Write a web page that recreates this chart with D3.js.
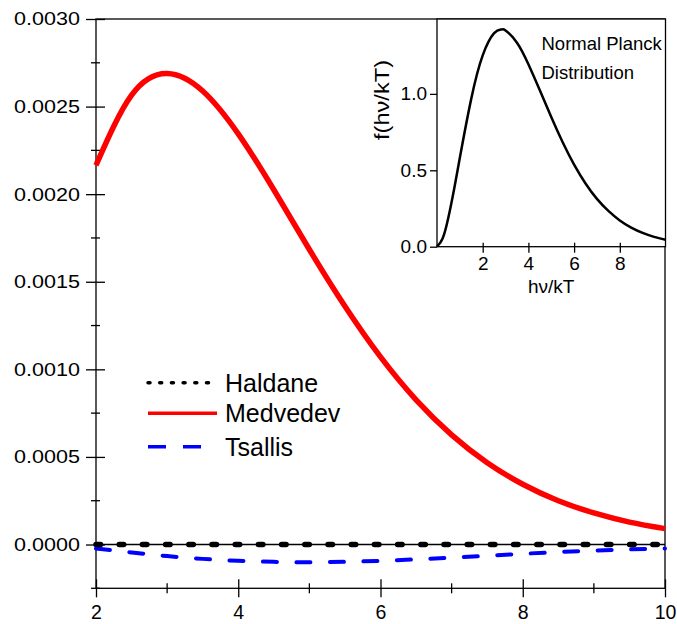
<!DOCTYPE html>
<html>
<head>
<meta charset="utf-8">
<script src="https://cdn.jsdelivr.net/npm/d3@7"></script>
<style>
    body { margin: 0; background: #fff; }
    text { font-family: "Liberation Sans", Arial, sans-serif; fill: #000; }
</style>
</head>
<body>
<div id="chart"></div>
<script>

// Main chart data
var xValues = [2, 2.5, 3, 3.5, 4, 4.5, 5, 5.5, 6, 6.5, 7, 7.5, 8, 8.5, 9, 9.5, 10];
var haldane = [0, 0, 0, 0, 0, 0, 0, 0, 0, 0, 0, 0, 0, 0, 0, 0, 0];
var medvedev = [0.002165, 0.002565, 0.002689, 0.002589, 0.002344, 0.002025, 0.001684, 0.001360,
    0.001071, 0.000826, 0.000626, 0.000467, 0.000344, 0.000250, 0.000180, 0.000128, 0.0000908];
var tsallis = [-0.000023, -0.000045, -0.000066, -0.000082, -0.000093, -0.000099, -0.000101, -0.000099,
    -0.000093, -0.000085, -0.000075, -0.000064, -0.000053, -0.000043, -0.000035, -0.000028, -0.000023];

var seriesNames = ["Haldane", "Medvedev", "Tsallis"];

var xMajorTicks = [2, 4, 6, 8, 10];
var xMinorTicks = [3, 5, 7, 9];
var yMajorTicks = [0, 0.0005, 0.0010, 0.0015, 0.0020, 0.0025, 0.0030];
var yMinorTicks = [-0.00025, 0.00025, 0.00075, 0.00125, 0.00175, 0.00225, 0.00275];

// Inset data: normal Planck distribution
var planckX = [0, 0.25, 0.5, 0.75, 1, 1.5, 2, 2.5, 2.82, 3, 3.5, 4, 4.5, 5, 5.5, 6, 6.5, 7, 7.5, 8, 8.5, 9, 9.5, 10];
var planckY = [0, 0.055, 0.193, 0.378, 0.582, 0.969, 1.252, 1.397, 1.421, 1.415, 1.335, 1.194, 1.024, 0.848,
    0.683, 0.537, 0.414, 0.313, 0.234, 0.172, 0.125, 0.090, 0.064, 0.045];
var insetXTicks = [2, 4, 6, 8];
var insetYTicks = [0, 0.5, 1.0];

var width = 677, height = 624;

var svg = d3.select("#chart").append("svg")
    .attr("width", width)
    .attr("height", height);

// Scales
var x = d3.scaleLinear().domain([2, 10]).range([96, 665]);
var y = d3.scaleLinear().domain([-0.00025, 0.003]).range([588.3, 19]);

var ix = d3.scaleLinear().domain([0, 10]).range([437, 665.5]);
var iy = d3.scaleLinear().domain([0, 1.49]).range([246.7, 19]);

// Frame
svg.append("rect")
    .attr("x", x(2)).attr("y", y(0.003))
    .attr("width", x(10) - x(2)).attr("height", y(-0.00025) - y(0.003))
    .attr("fill", "none").attr("stroke", "#000").attr("stroke-width", 1.3);

// Zero line
svg.append("line")
    .attr("x1", x(2)).attr("x2", x(10))
    .attr("y1", y(0)).attr("y2", y(0))
    .attr("stroke", "#000").attr("stroke-width", 1.3);

// Y axis
var yAxis = svg.append("g")
    .attr("transform", "translate(" + x(2) + ",0)")
    .call(d3.axisLeft(y).tickValues(yMajorTicks).tickSize(10).tickFormat(d3.format(".4f")));
yAxis.select(".domain").remove();
yAxis.selectAll(".tick line").attr("x1", 9).attr("stroke", "#000").attr("stroke-width", 1.3);
yAxis.selectAll(".tick text")
    .attr("x", -16)
    .attr("font-size", 18.5)
    .attr("font-family", null)
    .attr("textLength", 66)
    .attr("lengthAdjust", "spacingAndGlyphs");

svg.append("g").selectAll("line")
    .data(yMinorTicks)
    .enter().append("line")
    .attr("x1", x(2) - 5).attr("x2", x(2) + 4)
    .attr("y1", function (d) { return y(d); })
    .attr("y2", function (d) { return y(d); })
    .attr("stroke", "#000").attr("stroke-width", 1.3);

// X axis
var xAxis = svg.append("g")
    .attr("transform", "translate(0," + y(-0.00025) + ")")
    .call(d3.axisBottom(x).tickValues(xMajorTicks).tickSize(9).tickFormat(d3.format("d")));
xAxis.select(".domain").remove();
xAxis.selectAll(".tick line").attr("y1", -9).attr("stroke", "#000").attr("stroke-width", 1.3);
xAxis.selectAll(".tick text")
    .attr("y", 31).attr("dy", 0)
    .attr("font-size", 19.5)
    .attr("font-family", null);

svg.append("g").selectAll("line")
    .data(xMinorTicks)
    .enter().append("line")
    .attr("x1", function (d) { return x(d); })
    .attr("x2", function (d) { return x(d); })
    .attr("y1", y(-0.00025) - 5).attr("y2", y(-0.00025) + 5)
    .attr("stroke", "#000").attr("stroke-width", 1.3);

// Curves
function makeLine(values) {
    return d3.line()
        .x(function (d, i) { return x(xValues[i]); })
        .y(function (d) { return y(d); })
        .curve(d3.curveNatural)(values);
}

svg.append("path")
    .attr("d", makeLine(medvedev))
    .attr("fill", "none").attr("stroke", "#ff0000").attr("stroke-width", 5.5);

svg.append("path")
    .attr("d", makeLine(tsallis))
    .attr("fill", "none").attr("stroke", "#0000ff").attr("stroke-width", 4)
    .attr("stroke-linecap", "round")
    .attr("stroke-dasharray", "14,19.5");

svg.append("path")
    .attr("d", makeLine(haldane))
    .attr("fill", "none").attr("stroke", "#000").attr("stroke-width", 5.5)
    .attr("stroke-linecap", "round")
    .attr("stroke-dasharray", "4.5,18.7");

// Legend
var legendStyles = [
    {color: "#000", dash: "2,9.7", cap: "round"},
    {color: "#ff0000", dash: null, cap: "butt"},
    {color: "#0000ff", dash: "18,17", cap: "butt"}
];
var legendY = [382.7, 413.3, 446.7];

var legend = svg.append("g").selectAll("g")
    .data(seriesNames)
    .enter().append("g")
    .attr("transform", function (d, i) { return "translate(0," + legendY[i] + ")"; });

legend.append("line")
    .attr("x1", 148).attr("x2", 217)
    .attr("stroke", function (d, i) { return legendStyles[i].color; })
    .attr("stroke-width", 3.5)
    .attr("stroke-linecap", function (d, i) { return legendStyles[i].cap; })
    .attr("stroke-dasharray", function (d, i) { return legendStyles[i].dash; });

legend.append("text")
    .attr("x", 225)
    .attr("dy", "0.36em")
    .attr("font-size", 25)
    .text(function (d) { return d; });

// Inset
var inset = svg.append("g");

inset.append("rect")
    .attr("x", ix(0)).attr("y", iy(1.49))
    .attr("width", ix(10) - ix(0)).attr("height", iy(0) - iy(1.49))
    .attr("fill", "#fff").attr("stroke", "#000").attr("stroke-width", 1.3);

inset.append("path")
    .attr("d", d3.line()
        .x(function (d, i) { return ix(planckX[i]); })
        .y(function (d) { return iy(d); })
        .curve(d3.curveNatural)(planckY))
    .attr("fill", "none").attr("stroke", "#000").attr("stroke-width", 2.5);

var iyAxis = inset.append("g")
    .attr("transform", "translate(" + ix(0) + ",0)")
    .call(d3.axisLeft(iy).tickValues(insetYTicks).tickSize(7).tickPadding(3).tickFormat(d3.format(".1f")));
iyAxis.select(".domain").remove();
iyAxis.selectAll(".tick line").attr("stroke", "#000").attr("stroke-width", 1.3);
iyAxis.selectAll(".tick text").attr("font-size", 19).attr("font-family", null);

var ixAxis = inset.append("g")
    .attr("transform", "translate(0," + iy(0) + ")")
    .call(d3.axisBottom(ix).tickValues(insetXTicks).tickSize(6).tickFormat(d3.format("d")));
ixAxis.select(".domain").remove();
ixAxis.selectAll(".tick line").attr("y1", -4).attr("stroke", "#000").attr("stroke-width", 1.3);
ixAxis.selectAll(".tick text")
    .attr("y", 23).attr("dy", 0)
    .attr("font-size", 19)
    .attr("font-family", null);

inset.append("text")
    .attr("x", (ix(0) + ix(10)) / 2)
    .attr("y", 293)
    .attr("text-anchor", "middle")
    .attr("font-size", 19)
    .text("hν/kT");

inset.append("text")
    .attr("transform", "translate(389,100) rotate(-90)")
    .attr("text-anchor", "middle")
    .attr("font-size", 20)
    .attr("textLength", 80)
    .attr("lengthAdjust", "spacingAndGlyphs")
    .text("f(hν/kT)");

inset.append("text")
    .attr("x", 541.5).attr("y", 50)
    .attr("font-size", 18.5)
    .text("Normal Planck");

inset.append("text")
    .attr("x", 541.5).attr("y", 79)
    .attr("font-size", 18.5)
    .text("Distribution");

</script>
</body>
</html>
